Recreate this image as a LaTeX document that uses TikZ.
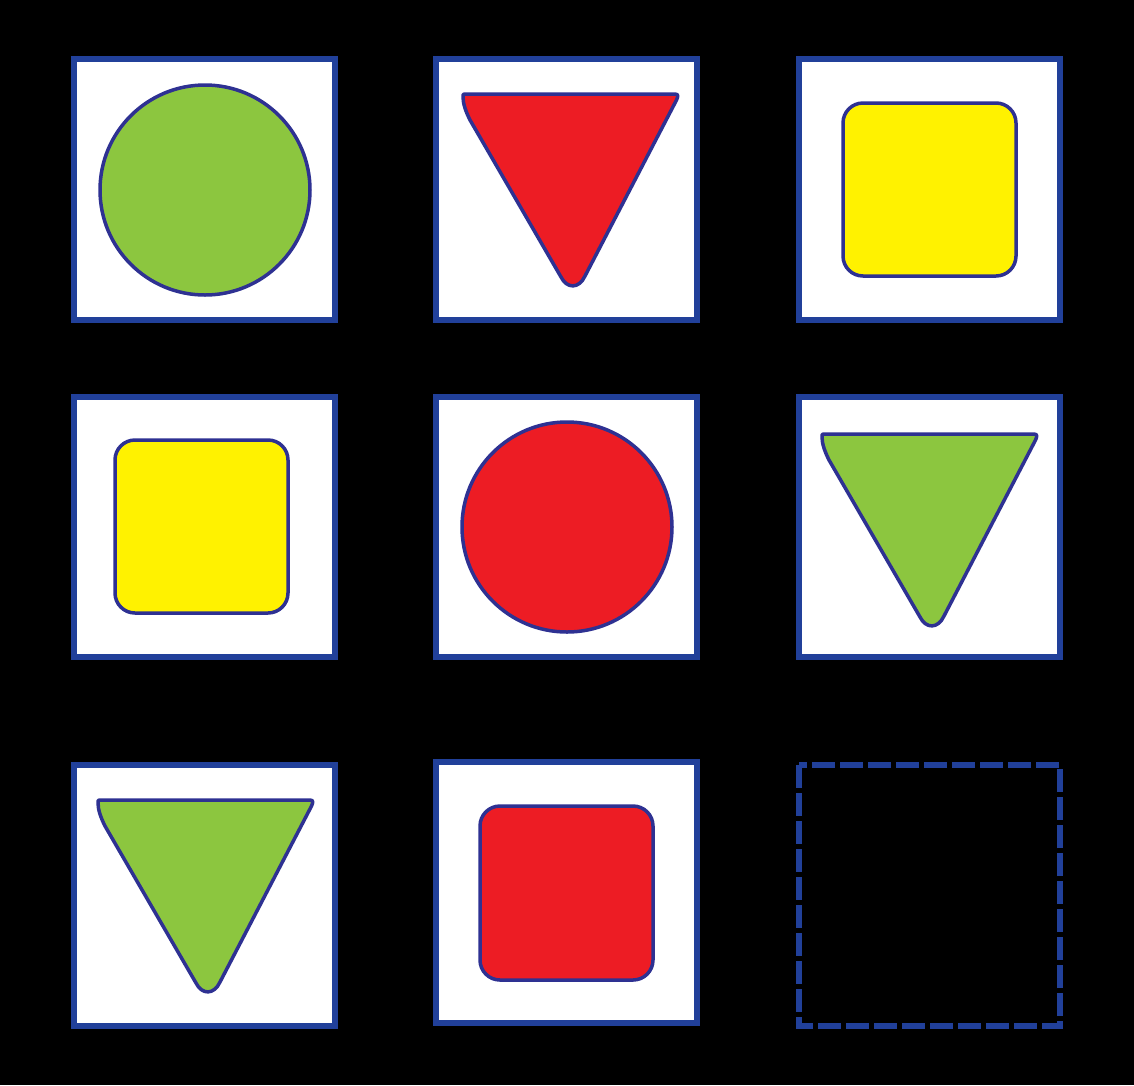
\documentclass[tikz,border=0pt]{standalone}
\definecolor{frameblue}{HTML}{21409A}
\definecolor{outl}{HTML}{2E3192}
\definecolor{sgreen}{HTML}{8CC63F}
\definecolor{sred}{HTML}{ED1C24}
\definecolor{syellow}{HTML}{FFF200}
\tikzset{
  cardbox/.style={draw=frameblue,line width=6pt,fill=white},
  emptybox/.style={draw=frameblue,line width=6pt,dash pattern=on 23pt off 5pt},
  shapeline/.style={draw=outl,line width=3.5pt,line join=round},
}
\newcommand{\mytri}[3]{%
  \begin{scope}[shift={(#1,#2)}]
  \path[shapeline,fill=#3] (2,0) -- (212,0) .. controls (216,0) and (215,3) .. (213,7)
     -- (122,182) .. controls (116,195) and (104,195) .. (98,183)
     -- (7,26) .. controls (3,18) and (0,10) .. (0,3) .. controls (0,0) .. (2,0) -- cycle;
  \end{scope}}
\begin{document}
\begin{tikzpicture}[x=1pt,y=-1pt]
\fill[black] (0,0) rectangle (1134,1085);
\useasboundingbox (0,0) rectangle (1134,1085);
% cards
\draw[cardbox] (74,59) rectangle (335,320);
\draw[cardbox] (436,59) rectangle (697,320);
\draw[cardbox] (799,59) rectangle (1060,320);
\draw[cardbox] (74,397) rectangle (335,657);
\draw[cardbox] (436,397) rectangle (697,657);
\draw[cardbox] (799,397) rectangle (1060,657);
\draw[cardbox] (74,765) rectangle (335,1026);
\draw[cardbox] (436,762) rectangle (697,1023);
\draw[emptybox] (799,765) rectangle (1060,1026);
% shapes
\path[shapeline,fill=sgreen] (205,190) circle[radius=105];
\mytri{463}{94}{sred}
\path[shapeline,fill=syellow,rounded corners=20pt] (843,103) rectangle (1016,276);
\path[shapeline,fill=syellow,rounded corners=20pt] (115,440) rectangle (288,613);
\path[shapeline,fill=sred] (567,527) circle[radius=105];
\mytri{822}{434}{sgreen}
\mytri{98}{800}{sgreen}
\path[shapeline,fill=sred,rounded corners=20pt] (480,806) rectangle (653,980);
\end{tikzpicture}
\end{document}
